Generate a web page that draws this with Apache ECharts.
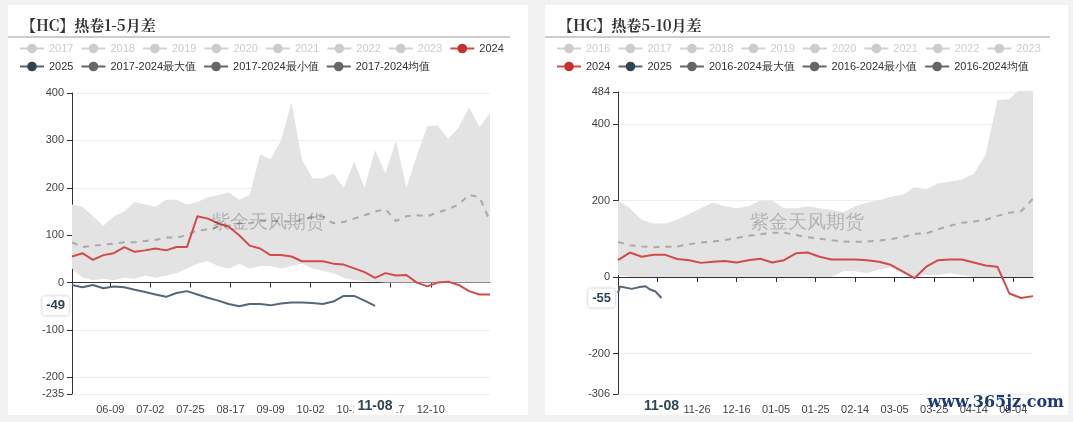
<!DOCTYPE html>
<html><head><meta charset="utf-8">
<script src="https://cdn.jsdelivr.net/npm/echarts@6/dist/echarts.min.js"></script>
<style>
body{margin:0;background:#f2f2f2;width:1073px;height:422px;overflow:hidden;font-family:"Noto Sans CJK SC",sans-serif}
#c1{position:absolute;left:8px;top:5px;width:520px;height:410px;background:#fff}
#c2{position:absolute;left:545px;top:5px;width:523px;height:410px;background:#fff}
</style></head><body>
<div id="c1"></div><div id="c2"></div>
<script>
// ---------- left chart data (热卷1-5月差), sampled every 6 days from 05-18 ----------
const leftTitle = '【HC】热卷1-5月差';
const leftYears = ['2017','2018','2019','2020','2021','2022','2023'];
const leftNames = ['2024','2025','2017-2024最大值','2017-2024最小值','2017-2024均值'];
const left2024 = [55,62,48,58,62,75,65,68,72,68,75,75,140,135,125,118,100,78,72,58,58,55,45,45,45,40,38,30,22,10,20,15,16,0,-8,0,2,-5,-18,-25,-25];
const leftMax = [165,160,140,120,140,150,170,165,160,175,175,165,170,180,185,190,175,185,270,260,300,380,260,220,220,230,200,255,200,280,230,300,200,260,320,330,300,320,350,300,330];
const leftMin = [30,10,5,8,5,10,8,15,10,15,20,30,40,45,35,30,40,30,35,35,30,35,40,30,25,20,10,5,3,2,0,0,0,-8,-10,-2,-3,-8,-20,-28,-28];
const leftMean = [85,75,78,80,82,85,85,88,90,95,95,100,110,112,118,120,125,125,130,130,130,128,132,138,140,125,128,135,142,150,155,130,140,142,140,148,155,165,185,180,130];
const left2025 = [-5,-10,-5,-12,-8,-10,-15,-20,-25,-30,-22,-18,-25,-32,-38,-45,-50,-45,-45,-48,-44,-42,-42,-43,-45,-40,-28,-28,-38,-49];
const leftCurrent = ['11-08', -49];

// ---------- right chart data (热卷5-10月差), sampled every 6 days from 10-17 ----------
const rightTitle = '【HC】热卷5-10月差';
const rightYears = ['2016','2017','2018','2019','2020','2021','2022','2023'];
const rightNames = ['2024','2025','2016-2024最大值','2016-2024最小值','2016-2024均值'];
const right2024 = [44,64,53,58,58,47,44,37,40,42,38,44,48,38,44,62,64,53,46,46,46,44,40,32,15,-3,27,44,46,46,38,30,27,-43,-55,-50];
const rightMax = [200,180,150,140,140,150,165,180,195,185,180,180,190,180,175,180,185,180,175,170,185,195,200,210,215,230,230,245,250,255,270,320,420,410,440,470];
const rightMin = [5,0,0,0,0,0,0,0,0,0,0,-5,-10,-20,-5,0,0,0,0,15,15,10,20,25,10,-5,5,5,10,5,0,0,-43,-55,-55,-50];
const rightMean = [92,83,80,78,79,80,86,90,93,97,102,108,112,116,116,110,104,100,96,93,92,93,95,99,104,113,114,125,134,142,145,150,160,168,172,205];
const right2025Dates = ['10-17','10-18','10-24','10-28','10-31','11-02','11-05','11-08'];
const right2025 = [-42,-25,-31,-26,-24,-32,-38,-55];
const rightCurrent = ['11-08', -55];

function dayList(y,m,d,n){const out=[];const t=new Date(Date.UTC(y,m-1,d));for(let i=0;i<n;i++){const s=new Date(t.getTime()+i*86400000);out.push(String(s.getUTCMonth()+1).padStart(2,'0')+'-'+String(s.getUTCDate()).padStart(2,'0'));}return out;}

function build(el, cfg){
  const cats = cfg.cats;
  const samp = cats.filter((_,i)=>i%6===0);
  const pair = (ds,vs)=>vs.map((v,i)=>[ds[i],v]);
  const labelFn = (i)=> i>=cfg.firstLab && i<=cfg.lastLab && (i-cfg.firstLab)%cfg.labStep===0;
  const legendData = cfg.years.concat(cfg.names);
  const selected = {}; cfg.years.forEach(y=>selected[y]=false);
  const base = {type:'line',symbol:'circle',symbolSize:8,showSymbol:false};
  const series = cfg.years.map(y=>Object.assign({},base,{name:y,data:[],itemStyle:{color:'#ccc'}}));
  series.push(Object.assign({},base,{name:cfg.names[3],stack:'band',data:pair(samp,cfg.min),itemStyle:{color:'#666'},lineStyle:{opacity:0,color:'#666'},z:1}));
  series.push(Object.assign({},base,{name:cfg.names[2],stack:'band',data:pair(samp,cfg.max.map((v,i)=>v-cfg.min[i])),itemStyle:{color:'#666'},lineStyle:{opacity:0,color:'#666'},areaStyle:{color:'#e3e3e3',opacity:1},z:1}));
  series.push(Object.assign({},base,{name:cfg.names[4],data:pair(samp,cfg.mean),itemStyle:{color:'#666'},lineStyle:{color:'#aaa',width:2,type:[6,6]},z:2}));
  series.push(Object.assign({},base,{name:cfg.names[0],data:pair(samp,cfg.s2024),itemStyle:{color:'#c62f2f'},lineStyle:{color:'#d24b4b',width:2},z:3}));
  series.push(Object.assign({},base,{name:cfg.names[1],data:pair(cfg.d2025,cfg.s2025),itemStyle:{color:'#2f4554'},lineStyle:{color:'#56677a',width:2},z:3}));
  const grayNames = cfg.names.slice(2);
  const ch = echarts.init(document.getElementById(el));
  ch.setOption({
    animation:false,
    tooltip:{show:true,trigger:'none'},
    title:{text:cfg.title,left:8,top:8,textStyle:{fontSize:15,fontWeight:'bold',color:'#333',fontFamily:'Noto Serif CJK SC, Noto Sans CJK SC'}},
    legend:{data:legendData.map(n=>grayNames.includes(n)?{name:n,lineStyle:{opacity:1,color:'#666',width:2,type:'solid'}}:{name:n}),selected,left:6,width:cfg.legendW,top:33,itemGap:7,itemWidth:24,itemHeight:12,
      textStyle:{fontSize:11,color:'#333'},inactiveColor:'#ccc',inactiveBorderColor:'#ccc'},
    grid:cfg.grid,
    xAxis:[
      {type:'category',data:cats,boundaryGap:false,axisLine:{onZero:true,lineStyle:{color:'#333'}},
       axisTick:{interval:labelFn,lineStyle:{color:'#333'}},axisLabel:{show:false},splitLine:{show:false}},
      {type:'category',data:cats,boundaryGap:false,position:'bottom',axisLine:{onZero:false,show:false},axisTick:{show:false},
       axisLabel:{interval:labelFn,color:'#444',fontSize:11,margin:10},
       axisPointer:{show:true,status:'show',value:cfg.cur[0],type:'line',lineStyle:{opacity:0},triggerTooltip:false,
         label:{show:true,backgroundColor:'#fff',color:'#2f4554',fontWeight:'bold',fontSize:14,padding:[2,4]}}}
    ],
    yAxis:{type:'value',min:cfg.ymin,max:cfg.ymax,axisLine:{show:true,lineStyle:{color:'#333'}},axisTick:{show:true},
      axisLabel:{color:'#444',fontSize:11,showMinLabel:true,showMaxLabel:true},splitLine:{lineStyle:{color:'#eee'}},
      axisPointer:{show:true,status:'show',value:cfg.cur[1],type:'line',lineStyle:{opacity:0},triggerTooltip:false,
        label:{show:true,formatter:p=>String(Math.round(p.value)),backgroundColor:'#fff',color:'#2f4554',fontWeight:'bold',fontSize:13,padding:[3,4],shadowBlur:3,shadowColor:'rgba(0,0,0,0.3)'}}},
    graphic:[
      {type:'line',shape:{x1:0,y1:32,x2:cfg.lineEnd,y2:32},style:{stroke:'#999',lineWidth:1}},
      {type:'text',left:'center',top:208,z:100,style:{text:'紫金天风期货',fontSize:19,fill:'rgba(0,0,0,0.22)'}}
    ].concat(cfg.extra||[]),
    series
  });
}

build('c1',{title:leftTitle,years:leftYears,names:leftNames,cats:dayList(2023,5,18,241),firstLab:22,lastLab:206,labStep:23,legendW:505,
  min:leftMin,max:leftMax,mean:leftMean,s2024:left2024,d2025:dayList(2023,5,18,241).filter((_,i)=>i%6===0).slice(0,left2025.length),s2025:left2025,
  cur:leftCurrent,ymin:-235,ymax:400,grid:{left:64,right:38,top:88,bottom:21},lineEnd:502});
build('c2',{title:rightTitle,years:rightYears,names:rightNames,cats:dayList(2023,10,17,211),firstLab:20,lastLab:210,labStep:20,legendW:510,
  min:rightMin,max:rightMax,mean:rightMean,s2024:right2024,d2025:right2025Dates,s2025:right2025,
  cur:rightCurrent,ymin:-306,ymax:484,grid:{left:73,right:35,top:87,bottom:21},lineEnd:505,
  extra:[{type:'text',right:4,bottom:4,z:101,style:{text:'www.365jz.com',fontSize:16,fontWeight:'bold',fill:'#1c3a7a',fontFamily:'DejaVu Serif'}}]});
</script></body></html>
